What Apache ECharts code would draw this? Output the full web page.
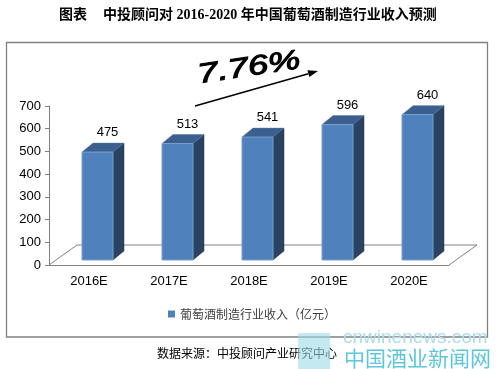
<!DOCTYPE html>
<html><head><meta charset="utf-8">
<script src="https://cdn.jsdelivr.net/npm/echarts@6/dist/echarts.min.js"></script>
<style>html,body{margin:0;padding:0;background:#fff}#c{width:497px;height:369px}</style>
</head><body><div id="c"></div>
<script>
// ---- data ----
const categories = ['2016E', '2017E', '2018E', '2019E', '2020E'];
const revenue = [475, 513, 541, 596, 640];
const yMin = 0, yMax = 700, yInterval = 100;
const seriesName = '葡萄酒制造行业收入（亿元）';
const growthLabel = '7.76%';
const titlePrefix = '图表';
const titleText = '中投顾问对 2016-2020 年中国葡萄酒制造行业收入预测';
const sourceText = '数据来源：中投顾问产业研究中心';
const watermarkTop = 'cnwinenews.com';
const watermarkBottom = '中国酒业新闻网';

// ---- style ----
const FRONT = '#4F81BD', TOP = '#3B5F8E', SIDE = '#2B4263';
const DX = 11, DY = -9;      // bar depth
const OFFX = 8.5, OFFY = -5; // bar position inside floor depth
const BARW = 31;
const FLOORDX = 28, FLOORDY = -20;
const GRAY = '#808080';

const chart = echarts.init(document.getElementById('c'), null, { renderer: 'canvas' });

function renderBar(params, api) {
  const idx = api.value(0), v = api.value(1);
  const base = api.coord([idx, 0]);
  const topP = api.coord([idx, v]);
  const cx = base[0] + OFFX;
  const x0 = cx - BARW / 2, x1 = cx + BARW / 2;
  const yb = base[1] + OFFY, yt = topP[1] + OFFY;
  return {
    type: 'group', children: [
      { type: 'polygon', shape: { points: [[x1, yt], [x1 + DX, yt + DY], [x1 + DX, yb + DY], [x1, yb]] }, style: { fill: SIDE, stroke: '#223650', lineWidth: 0.5 } },
      { type: 'polygon', shape: { points: [[x0, yt], [x0 + DX, yt + DY], [x1 + DX, yt + DY], [x1, yt]] }, style: { fill: TOP, stroke: '#56799f', lineWidth: 0.5 } },
      { type: 'rect', shape: { x: x0, y: yt, width: BARW, height: yb - yt }, style: { fill: FRONT, stroke: '#78a0cf', lineWidth: 1 } },
      { type: 'text', x: cx + 10, y: yt + DY - 4, style: { text: String(v), fill: '#000', font: '13px "Liberation Sans", Arial', align: 'center', verticalAlign: 'bottom' } }
    ]
  };
}

function renderFloor(params, api) {
  const cs = params.coordSys;
  const x0 = cs.x, x1 = cs.x + cs.width, y = cs.y + cs.height;
  return {
    type: 'polyline',
    shape: { points: [[x0, y], [x0 + FLOORDX, y + FLOORDY], [x1 + FLOORDX, y + FLOORDY], [x1, y]] },
    style: { stroke: GRAY, lineWidth: 1, fill: null }
  };
}

// arrow geometry (decoration)
const aStart = [195, 106], aEnd = [318, 71];
const adx = aEnd[0] - aStart[0], ady = aEnd[1] - aStart[1];
const alen = Math.sqrt(adx * adx + ady * ady);
const ux = adx / alen, uy = ady / alen;
const hb = [aEnd[0] - 10 * ux, aEnd[1] - 10 * uy];
const head = [aEnd, [hb[0] - 3.5 * uy, hb[1] + 3.5 * ux], [hb[0] + 3.5 * uy, hb[1] - 3.5 * ux]];

chart.setOption({
  animation: false,
  grid: { left: 49, top: 106, width: 400, height: 159 },
  xAxis: {
    type: 'category', data: categories,
    axisLine: { lineStyle: { color: GRAY } },
    axisTick: { length: 4, lineStyle: { color: GRAY } },
    axisLabel: { color: '#000', fontSize: 13, fontFamily: '"Liberation Sans", Arial', margin: 10 }
  },
  yAxis: {
    type: 'value', min: yMin, max: yMax, interval: yInterval,
    axisLine: { show: true, lineStyle: { color: GRAY } },
    axisTick: { show: true, length: 4, lineStyle: { color: GRAY } },
    splitLine: { show: false },
    axisLabel: { color: '#000', fontSize: 13, fontFamily: '"Liberation Sans", Arial', margin: 8 }
  },
  legend: {
    data: [seriesName], left: 163, top: 303, icon: 'rect', itemWidth: 7, itemHeight: 7,
    textStyle: { fontSize: 12, color: '#404040', fontFamily: '"Noto Sans CJK SC"' }
  },
  series: [
    { type: 'custom', name: 'floor', silent: true, z: 1, renderItem: renderFloor, data: [[0, 0]] },
    {
      type: 'custom', name: seriesName, z: 3, renderItem: renderBar,
      itemStyle: { color: FRONT },
      data: revenue.map((v, i) => [i, v])
    }
  ],
  graphic: [
    { type: 'rect', shape: { x: 6.5, y: 42.5, width: 481, height: 294.5 }, style: { fill: null, stroke: GRAY, lineWidth: 1.3 }, z: 0 },
    { type: 'text', left: 59, top: 8, style: { text: titlePrefix, font: 'bold 14px "Liberation Serif", "Noto Sans CJK SC"', fill: '#000' } },
    { type: 'text', left: 103, top: 8, style: { text: titleText, font: 'bold 14px "Liberation Serif", "Noto Sans CJK SC"', fill: '#000' } },
    { type: 'line', shape: { x1: aStart[0], y1: aStart[1], x2: hb[0], y2: hb[1] }, style: { stroke: '#000', lineWidth: 1.5 } },
    { type: 'polygon', shape: { points: head }, style: { fill: '#000' } },
    { type: 'text', x: 249, y: 68, rotation: 0.15, scaleX: 1.4, scaleY: 1.05,
      style: { text: growthLabel, font: 'italic 26px "Liberation Sans", Arial', fill: '#000', stroke: '#000', lineWidth: 1, align: 'center', verticalAlign: 'middle' } },
    { type: 'text', left: 157, top: 347, style: { text: sourceText, font: '12px "Noto Sans CJK SC"', fill: '#000' } },
    { type: 'rect', shape: { x: 298, y: 333, width: 32, height: 36 }, style: { fill: '#9ddbe8', opacity: 0.6 } },
    { type: 'text', left: 343, top: 328, style: { text: watermarkTop, font: '19px "Liberation Sans", Arial', fill: '#aadde9' } },
    { type: 'text', left: 344, top: 348, style: { text: watermarkBottom, font: '21px "Noto Sans CJK SC"', fill: '#5cc6da' } }
  ]
});
</script>
</body></html>
